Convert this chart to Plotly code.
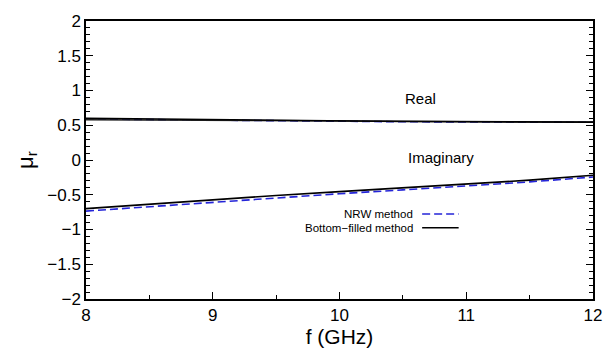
import plotly.graph_objects as go

freq = [8.0, 8.5, 9.0, 9.5, 10.0, 10.5, 11.0, 11.5, 12.0]
bf_real = [0.60, 0.59, 0.575, 0.565, 0.56, 0.555, 0.55, 0.55, 0.545]
bf_real2 = [0.58, 0.575, 0.565, 0.56, 0.555, 0.55, 0.55, 0.545, 0.545]
nrw_real = [0.59, 0.58, 0.57, 0.56, 0.555, 0.55, 0.548, 0.545, 0.543]
bf_imag = [-0.70, -0.635, -0.57, -0.51, -0.455, -0.40, -0.35, -0.29, -0.22]
nrw_imag = [-0.735, -0.67, -0.605, -0.545, -0.485, -0.43, -0.375, -0.315, -0.245]

FONT = "Liberation Sans, Arial, sans-serif"
BLUE = "#2424d8"
DASH = "8px,4px"

fig = go.Figure()
fig.add_trace(go.Scatter(x=freq, y=nrw_real, mode="lines",
                         line=dict(color=BLUE, width=1.6, dash=DASH), showlegend=False))
fig.add_trace(go.Scatter(x=freq, y=nrw_imag, mode="lines",
                         line=dict(color=BLUE, width=1.6, dash=DASH), showlegend=False))
fig.add_trace(go.Scatter(x=freq, y=bf_real2, mode="lines",
                         line=dict(color="#222", width=1.4), showlegend=False))
fig.add_trace(go.Scatter(x=freq, y=bf_real, mode="lines",
                         line=dict(color="black", width=1.6), showlegend=False))
fig.add_trace(go.Scatter(x=freq, y=bf_imag, mode="lines",
                         line=dict(color="black", width=1.6), showlegend=False))

axis_common = dict(showline=True, linecolor="black", linewidth=1.5,
                   ticks="inside", tickcolor="black", showgrid=False, zeroline=False,
                   tickfont=dict(family=FONT, size=17, color="black"))

fig.update_xaxes(range=[8, 12], tickvals=[8, 9, 10, 11, 12], ticklen=7, mirror=True,
                 minor=dict(dtick=0.5, ticks="inside", ticklen=4, tickcolor="black"),
                 title=dict(text="f (GHz)", font=dict(family=FONT, size=21, color="black"), standoff=4),
                 **axis_common)
fig.update_yaxes(range=[-2, 2], dtick=0.5, ticklen=7, mirror="ticks",
                 minor=dict(dtick=0.1, ticks="inside", ticklen=4, tickcolor="black"),
                 title=dict(text="μ<sub>r</sub>", font=dict(family=FONT, size=22, color="black"), standoff=8),
                 **axis_common)

fig.add_annotation(x=10.64, y=0.88, text="Real", showarrow=False,
                   font=dict(family=FONT, size=15, color="black"))
fig.add_annotation(x=10.8, y=0.03, text="Imaginary", showarrow=False,
                   font=dict(family=FONT, size=15, color="black"))

# legend (paper coords)
leg = [("NRW method", BLUE, DASH, 0.306), ("Bottom\u2212filled method", "black", "solid", 0.256)]
for name, col, dash, yp in leg:
    fig.add_annotation(xref="paper", yref="paper", x=0.647, y=yp, text=name, showarrow=False,
                       xanchor="right", yanchor="middle", borderpad=0,
                       font=dict(family=FONT, size=11.5, color="black"))
    fig.add_shape(type="line", xref="paper", yref="paper", x0=0.663, x1=0.735, y0=yp, y1=yp,
                  line=dict(color=col, width=1.5, dash=dash))

fig.update_layout(width=614, height=360, margin=dict(l=86, r=14, t=14, b=61),
                  plot_bgcolor="white", paper_bgcolor="white", showlegend=False)
fig.write_html("out.html")
